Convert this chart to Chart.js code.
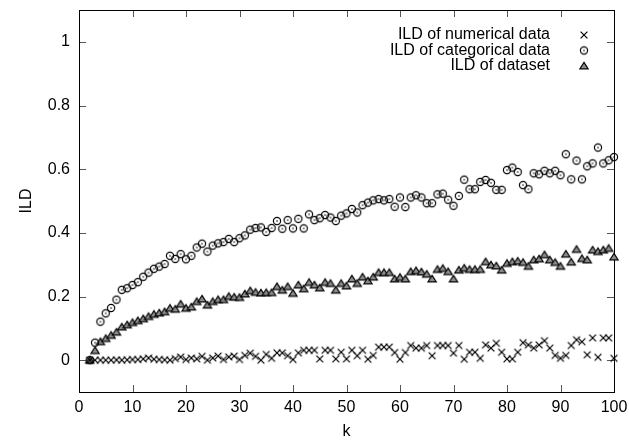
<!DOCTYPE html>
<html><head><meta charset="utf-8">
<script src="https://cdn.jsdelivr.net/npm/chart.js@4/dist/chart.umd.min.js"></script>
<style>html,body{margin:0;padding:0;background:#fff;}canvas{display:block;}</style>
</head><body>
<canvas id="c" width="629" height="441"></canvas>
<script>
const kValues = [2,3,4,5,6,7,8,9,10,11,12,13,14,15,16,17,18,19,20,21,22,23,24,25,26,27,28,29,30,31,32,33,34,35,36,37,38,39,40,41,42,43,44,45,46,47,48,49,50,51,52,53,54,55,56,57,58,59,60,61,62,63,64,65,66,67,68,69,70,71,72,73,74,75,76,77,78,79,80,81,82,83,84,85,86,87,88,89,90,91,92,93,94,95,96,97,98,99,100];
const numericalILD = [0,0,0,0,0,0.001,0,0.001,0.002,0.002,0.004,0.007,0.003,0.002,0.001,0,0.005,0.010,0.002,0.007,0.004,0.012,0,0.007,0.013,0.002,0.010,0.013,0.002,0.015,0.022,0.012,0,0.018,0.006,0.023,0.023,0.014,0.002,0.023,0.031,0.031,0.031,0.004,0.031,0.031,0.004,0.025,0.004,0.031,0.014,0.031,0.003,0.015,0.041,0.041,0.041,0.024,0.003,0.024,0.046,0.038,0.038,0.046,0.014,0.046,0.046,0.046,0.022,0.046,0.003,0.025,0.025,0.006,0.048,0.038,0.053,0.025,0.004,0.004,0.025,0.055,0.048,0.038,0.048,0.061,0.038,0.015,0.006,0.015,0.046,0.064,0.058,0.017,0.070,0.009,0.070,0.070,0.006];
const categoricalILD = [0,0.055,0.121,0.147,0.164,0.190,0.221,0.226,0.236,0.245,0.262,0.275,0.287,0.294,0.302,0.328,0.318,0.333,0.317,0.328,0.354,0.366,0.341,0.360,0.367,0.371,0.381,0.371,0.383,0.392,0.410,0.415,0.417,0.403,0.415,0.437,0.413,0.440,0.414,0.444,0.414,0.458,0.440,0.446,0.456,0.448,0.437,0.454,0.461,0.475,0.464,0.487,0.495,0.502,0.506,0.502,0.506,0.482,0.511,0.481,0.511,0.518,0.511,0.493,0.493,0.521,0.523,0.504,0.485,0.516,0.567,0.537,0.537,0.560,0.566,0.557,0.535,0.535,0.597,0.605,0.591,0.550,0.537,0.587,0.584,0.595,0.587,0.595,0.581,0.647,0.568,0.627,0.568,0.609,0.618,0.668,0.618,0.628,0.638];
const datasetILD = [0,0.030,0.058,0.068,0.078,0.088,0.104,0.111,0.118,0.124,0.130,0.137,0.144,0.148,0.152,0.163,0.160,0.176,0.163,0.167,0.184,0.192,0.173,0.184,0.190,0.190,0.200,0.198,0.197,0.208,0.218,0.213,0.211,0.212,0.212,0.231,0.220,0.231,0.210,0.236,0.224,0.244,0.236,0.227,0.244,0.241,0.220,0.241,0.233,0.255,0.241,0.261,0.249,0.261,0.275,0.275,0.275,0.255,0.260,0.255,0.278,0.281,0.277,0.270,0.255,0.285,0.288,0.278,0.255,0.283,0.289,0.285,0.285,0.285,0.309,0.299,0.296,0.283,0.304,0.309,0.311,0.307,0.295,0.315,0.318,0.331,0.315,0.307,0.295,0.333,0.308,0.348,0.319,0.315,0.346,0.341,0.346,0.351,0.324];
const xTickValues = [0,10,20,30,40,50,60,70,80,90,100];
const yTickValues = [0,0.2,0.4,0.6,0.8,1];
const seriesLabels = ['ILD of numerical data','ILD of categorical data','ILD of dataset'];
const xTitle = 'k';
const yTitle = 'ILD';

const FONT = '"Liberation Sans", Arial, Helvetica, sans-serif';

function makeMarker(kind){
  const c = document.createElement('canvas');
  c.width = 12; c.height = 12;
  const g = c.getContext('2d');
  const cx = 6, cy = 6;
  g.lineWidth = 1.2;
  if (kind === 'cross'){
    g.strokeStyle = '#000';
    g.beginPath();
    g.moveTo(cx-3.4, cy-3.4); g.lineTo(cx+3.4, cy+3.4);
    g.moveTo(cx+3.4, cy-3.4); g.lineTo(cx-3.4, cy+3.4);
    g.stroke();
  } else if (kind === 'circle'){
    g.strokeStyle = '#000';
    g.beginPath(); g.arc(cx, cy, 3.6, 0, Math.PI*2); g.stroke();
    g.fillStyle = '#000';
    g.beginPath(); g.arc(cx, cy, 0.8, 0, Math.PI*2); g.fill();
  } else {
    g.fillStyle = '#8c8c8c';
    g.strokeStyle = '#000';
    g.beginPath();
    g.moveTo(cx, cy-3.6); g.lineTo(cx+4.1, cy+2.8); g.lineTo(cx-4.1, cy+2.8); g.closePath();
    g.fill(); g.stroke();
  }
  return c;
}
const markers = [makeMarker('cross'), makeMarker('circle'), makeMarker('triangle')];

function pts(vals){ return kValues.map((k,i)=>({x:k, y:vals[i]})); }

const frameTicks = {
  id: 'frameTicks',
  beforeDatasetsDraw(chart){
    const {ctx, chartArea:a, scales} = chart;
    ctx.save();
    ctx.strokeStyle = '#555';
    ctx.lineWidth = 1;
    const L = 7;
    ctx.beginPath();
    xTickValues.forEach(v=>{
      const x = Math.round(scales.x.getPixelForValue(v)) + 0.5;
      ctx.moveTo(x, a.bottom); ctx.lineTo(x, a.bottom - L);
      ctx.moveTo(x, a.top); ctx.lineTo(x, a.top + L);
    });
    yTickValues.forEach(v=>{
      const y = Math.round(scales.y.getPixelForValue(v)) + 0.5;
      ctx.moveTo(a.left, y); ctx.lineTo(a.left + L, y);
      ctx.moveTo(a.right, y); ctx.lineTo(a.right - L, y);
    });
    ctx.stroke();
    ctx.strokeStyle = '#000';
    ctx.lineWidth = 1;
    ctx.strokeRect(a.left + 0.5, a.top + 0.5, a.right - a.left, a.bottom - a.top);
    ctx.restore();
  }
};

const keyBox = {
  id: 'keyBox',
  afterDatasetsDraw(chart){
    const {ctx} = chart;
    ctx.save();
    ctx.font = '16px ' + FONT;
    ctx.fillStyle = '#000';
    ctx.textAlign = 'right';
    ctx.textBaseline = 'middle';
    const ys = [35, 50.5, 66];
    seriesLabels.forEach((t,i)=>{
      ctx.fillText(t, 550, ys[i]);
      const m = markers[i];
      ctx.drawImage(m, 584 - m.width/2, ys[i] - m.height/2);
    });
    ctx.restore();
  }
};

Chart.defaults.font.family = FONT;
Chart.defaults.font.size = 16;
Chart.defaults.color = '#000';

new Chart(document.getElementById('c'), {
  type: 'scatter',
  data: {
    datasets: [
      {label: seriesLabels[0], data: pts(numericalILD), pointStyle: markers[0], pointRadius: 4, clip: false},
      {label: seriesLabels[1], data: pts(categoricalILD), pointStyle: markers[1], pointRadius: 4, clip: false},
      {label: seriesLabels[2], data: pts(datasetILD), pointStyle: markers[2], pointRadius: 4, clip: false}
    ]
  },
  options: {
    responsive: false,
    devicePixelRatio: 1,
    animation: false,
    events: [],
    layout: {padding: {left: 0, right: 15, top: 10, bottom: 0}},
    plugins: {legend: {display: false}, tooltip: {enabled: false}},
    scales: {
      x: {
        type: 'linear', min: 0, max: 100,
        afterBuildTicks: s => { s.ticks = xTickValues.map(v => ({value: v})); },
        afterFit: s => { s.height = 49; s.paddingLeft = 0; s.paddingRight = 0; },
        grid: {display: false, drawTicks: false},
        border: {display: false},
        ticks: {padding: 6, maxRotation: 0, autoSkip: false, color: '#000', callback: v => String(v)},
        title: {display: true, text: xTitle, color: '#000', padding: {top: 0, bottom: 0}}
      },
      y: {
        type: 'linear', min: -0.1, max: 1.1,
        afterBuildTicks: s => { s.ticks = yTickValues.map(v => ({value: v})); },
        afterFit: s => { s.width = 79; s.paddingTop = 0; s.paddingBottom = 0; },
        grid: {display: false, drawTicks: false},
        border: {display: false},
        ticks: {padding: 9, autoSkip: false, color: '#000', callback: v => String(Math.round(v*10)/10)},
        title: {display: true, text: yTitle, color: '#000', padding: {top: 17, bottom: 0}}
      }
    }
  },
  plugins: [frameTicks, keyBox]
});
</script>
</body></html>
